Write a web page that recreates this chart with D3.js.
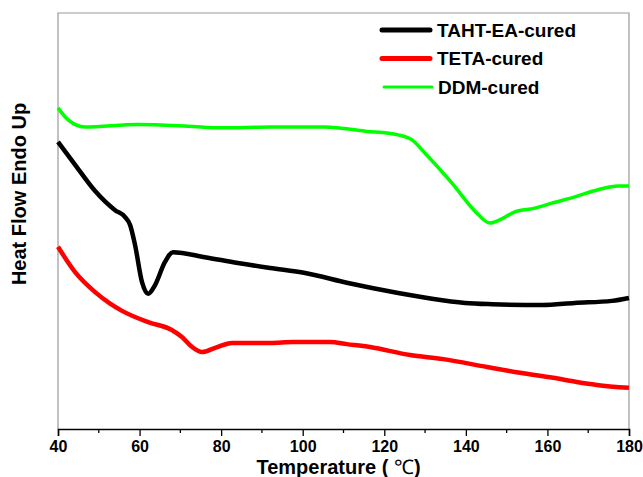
<!DOCTYPE html>
<meta charset="utf-8">
<style>
  body { margin: 0; background: #fff; }
  svg { font-family: "Liberation Sans", Arial, sans-serif; font-weight: bold; }
</style>
<svg width="643" height="477"></svg>
<script src="https://d3js.org/d3.v7.min.js"></script>
<script>

// temperature (°C) and heat flow (arbitrary units)
var tahtT = [40, 44.2, 49.1, 54.0, 56.4, 57.7, 58.9, 60.6, 62.1, 63.8, 66.2, 68.2, 76.0, 84.1, 92.0, 100.6, 111.1, 123.4, 131.7, 139.8, 146.4, 158.7, 166.7, 175.8, 180];
var tahtY = [6.90, 6.35, 5.72, 5.26, 5.10, 4.90, 4.42, 3.53, 3.25, 3.46, 4.01, 4.25, 4.13, 3.99, 3.87, 3.75, 3.51, 3.27, 3.13, 3.03, 3.00, 2.98, 3.03, 3.08, 3.15];

var tetaT = [40, 44.2, 49.1, 52.7, 55.7, 62.1, 67.9, 70.4, 72.9, 75.3, 78.5, 82.7, 92.0, 97.6, 106.7, 110.8, 116.5, 126.3, 134.4, 145.2, 153.3, 161.4, 167.2, 172.1, 180];
var tetaY = [4.38, 3.77, 3.29, 3.02, 2.84, 2.57, 2.38, 2.21, 1.97, 1.85, 1.95, 2.07, 2.07, 2.09, 2.09, 2.04, 1.97, 1.78, 1.68, 1.49, 1.35, 1.23, 1.13, 1.06, 0.99];

var ddmT = [40, 42.5, 46.6, 59.6, 71.9, 80.2, 92.0, 105.5, 115.3, 123.4, 126.8, 130.0, 136.6, 142.7, 145.9, 148.8, 152.0, 156.9, 161.1, 166.7, 172.4, 177.3, 180];
var ddmY = [7.72, 7.43, 7.26, 7.32, 7.28, 7.24, 7.26, 7.26, 7.16, 7.07, 6.95, 6.63, 5.91, 5.19, 4.95, 5.05, 5.22, 5.31, 5.43, 5.58, 5.75, 5.84, 5.84];

var seriesNames = ["TAHT-EA-cured", "TETA-cured", "DDM-cured"];
var seriesColors = ["#000000", "#ff0000", "#00ff00"];
var seriesWidths = [4.5, 4.5, 3.5];
var xTicks = [40, 60, 80, 100, 120, 140, 160, 180];

var svg = d3.select("svg");
var mLeft = 58, mRight = 629, mTop = 13, mBottom = 429;

var x = d3.scaleLinear().domain([40, 180]).range([mLeft, mRight]);
var y = d3.scaleLinear().domain([0, 10]).range([mBottom, mTop]);

function zip(a, b) { return a.map(function(d, i) { return [d, b[i]]; }); }
var series = [zip(tahtT, tahtY), zip(tetaT, tetaY), zip(ddmT, ddmY)];

// frame
svg.append("path")
  .attr("d", "M" + mLeft + "," + mBottom + "V" + mTop + "H" + mRight + "V" + mBottom)
  .attr("fill", "none")
  .attr("stroke", "#999")
  .attr("stroke-width", 1.2);

var line = d3.line()
  .x(function(d) { return x(d[0]); })
  .y(function(d) { return y(d[1]); })
  .curve(d3.curveMonotoneX);

svg.selectAll(".curve")
  .data(series)
  .enter().append("path")
  .attr("class", "curve")
  .attr("d", line)
  .attr("fill", "none")
  .attr("stroke", function(d, i) { return seriesColors[i]; })
  .attr("stroke-width", function(d, i) { return seriesWidths[i]; })
  .attr("stroke-linejoin", "round");

// x axis
var xAxis = svg.append("g")
  .attr("transform", "translate(0," + mBottom + ")")
  .call(d3.axisBottom(x).tickValues(xTicks).tickSize(7).tickPadding(5));
xAxis.select(".domain").attr("stroke", "#000").attr("stroke-width", 1.5);
xAxis.selectAll(".tick line").attr("stroke-width", 1.3);
xAxis.selectAll("text")
  .attr("font-family", "Liberation Sans, Arial, sans-serif")
  .attr("font-weight", "bold")
  .attr("font-size", 16)
  .attr("fill", "#000");

svg.append("g")
  .selectAll("line")
  .data(d3.range(50, 180, 20))
  .enter().append("line")
  .attr("x1", function(d) { return x(d); })
  .attr("x2", function(d) { return x(d); })
  .attr("y1", mBottom)
  .attr("y2", mBottom + 4)
  .attr("stroke", "#000")
  .attr("stroke-width", 1.3);

var xt = svg.append("text")
  .attr("x", (mLeft + mRight) / 2 - 5)
  .attr("y", 474)
  .attr("text-anchor", "middle")
  .attr("font-size", 20)
  .text("Temperature ( ");
xt.append("tspan")
  .attr("font-family", "Liberation Serif, serif")
  .attr("font-weight", "normal")
  .text("\u2103");
xt.append("tspan").text(")");

svg.append("text")
  .attr("transform", "translate(26,194) rotate(-90)")
  .attr("text-anchor", "middle")
  .attr("font-size", 20)
  .text("Heat Flow Endo Up");

// legend
var legend = svg.selectAll(".legend")
  .data(seriesNames)
  .enter().append("g")
  .attr("class", "legend")
  .attr("transform", function(d, i) { return "translate(382," + (30 + i * 28.5) + ")"; });

legend.append("line")
  .attr("x1", function(d, i) { return i == 2 ? 2 : 0; })
  .attr("x2", function(d, i) { return i == 2 ? 50 : 48; })
  .attr("stroke", function(d, i) { return seriesColors[i]; })
  .attr("stroke-width", function(d, i) { return i == 2 ? 3 : 5; })
  .attr("stroke-linecap", "round");

legend.append("text")
  .attr("x", function(d, i) { return i == 2 ? 56 : 55; })
  .attr("dy", "0.36em")
  .attr("font-size", 19)
  .text(function(d) { return d; });

</script>
